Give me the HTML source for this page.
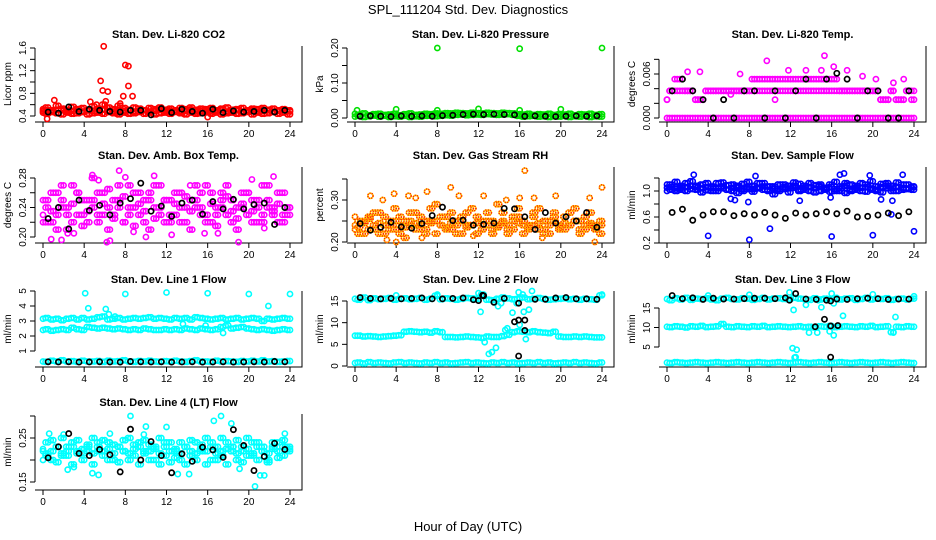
<!DOCTYPE html>
<html><head><meta charset="utf-8"><style>
html,body{margin:0;padding:0;background:#fff;}
svg{display:block;font-family:"Liberation Sans",sans-serif;}
</style></head><body>
<svg id="chart" width="936" height="540" viewBox="0 0 936 540" xmlns="http://www.w3.org/2000/svg">
<text x="468" y="14" text-anchor="middle" font-size="13">SPL_111204  Std. Dev. Diagnostics</text>
<text x="468" y="531" text-anchor="middle" font-size="13">Hour of Day (UTC)</text>
</svg>
<script>
const hours=[0,0.5,1,1.5,2,2.5,3,3.5,4,4.5,5,5.5,6,6.5,7,7.5,8,8.5,9,9.5,10,10.5,11,11.5,12,12.5,13,13.5,14,14.5,15,15.5,16,16.5,17,17.5,18,18.5,19,19.5,20,20.5,21,21.5,22,22.5,23,23.5,24];
const quarterHours=[0.25,0.75,1.25,1.75,2.25,2.75,3.25,3.75,4.25,4.75,5.25,5.75,6.25,6.75,7.25,7.75,8.25,8.75,9.25,9.75,10.25,10.75,11.25,11.75,12.25,12.75,13.25,13.75,14.25,14.75,15.25,15.75,16.25,16.75,17.25,17.75,18.25,18.75,19.25,19.75,20.25,20.75,21.25,21.75,22.25,22.75,23.25,23.75];
const blackHours=[0.5,1.5,2.5,3.5,4.5,5.5,6.5,7.5,8.5,9.5,10.5,11.5,12.5,13.5,14.5,15.5,16.5,17.5,18.5,19.5,20.5,21.5,22.5,23.5];
const xTicks=[0,4,8,12,16,20,24];

// P1 CO2
const co2A=[0.46,0.44,0.47,0.45,0.43,0.46,0.44,0.45,0.47,0.43,0.45,0.46,0.44,0.47,0.45,0.43,0.46,0.44,0.45,0.47,0.44,0.46,0.43,0.45,0.46,0.44,0.47,0.45,0.43,0.46,0.44,0.45,0.47,0.44,0.46,0.43,0.45,0.46,0.44,0.45,0.47,0.43,0.46,0.44,0.45,0.47,0.44,0.46,0.43];
const co2B=[0.52,0.55,0.5,0.58,0.53,0.51,0.56,0.52,0.54,0.5,0.57,0.53,0.6,0.55,0.52,0.58,0.54,0.51,0.55,0.53,0.5,0.54,0.52,0.55,0.51,0.53,0.5,0.54,0.52,0.55,0.51,0.53,0.52,0.54,0.5,0.53,0.55,0.51,0.52,0.54,0.5,0.53,0.52,0.54,0.51,0.53,0.5,0.52,0.5];
const co2C=[0.49,0.5,0.48,0.51,0.5,0.48,0.49,0.52,0.48,0.5,0.49,0.48,0.51,0.49,0.48,0.5,0.49,0.51,0.48,0.49,0.5,0.48,0.49,0.51,0.48,0.49,0.5,0.48,0.49,0.51,0.48,0.49,0.5,0.48,0.49,0.51,0.48,0.49,0.5,0.48,0.49,0.51,0.48,0.49,0.5,0.48,0.49,0.5,0.48];
const co2OutX=[0.4,1.1,4.6,5.6,5.8,5.9,6.1,6.3,7.8,8.0,8.3,8.3,8.7,16.0,7.5,5.2];
const co2OutY=[0.35,0.68,0.65,1.02,0.85,1.63,0.66,0.83,0.75,1.3,1.28,0.93,0.75,0.38,0.62,0.6];
const co2Black=[0.47,0.45,0.56,0.48,0.52,0.5,0.48,0.47,0.5,0.5,0.42,0.53,0.46,0.52,0.48,0.45,0.52,0.46,0.49,0.47,0.48,0.5,0.47,0.5];

// P2 Pressure
const prA=[0.004,0.006,0.003,0.005,0.007,0.004,0.006,0.003,0.005,0.004,0.006,0.003,0.005,0.004,0.006,0.007,0.005,0.006,0.008,0.007,0.009,0.01,0.008,0.009,0.01,0.009,0.011,0.01,0.009,0.01,0.011,0.009,0.006,0.004,0.005,0.006,0.004,0.005,0.003,0.005,0.004,0.006,0.003,0.005,0.004,0.006,0.003,0.005,0.004];
const prB=[0.012,0.009,0.013,0.008,0.011,0.012,0.009,0.01,0.012,0.008,0.011,0.013,0.009,0.01,0.012,0.011,0.013,0.012,0.014,0.013,0.015,0.014,0.013,0.015,0.014,0.013,0.015,0.014,0.013,0.015,0.014,0.013,0.011,0.01,0.012,0.009,0.011,0.01,0.012,0.009,0.011,0.01,0.012,0.008,0.011,0.01,0.012,0.009,0.011];
const prOutX=[0.2,4,8,12,16,20,24,8,16];
const prOutY=[0.022,0.025,0.2,0.026,0.198,0.025,0.2,0.022,0.022];
const prBlack=[0.005,0.006,0.005,0.004,0.006,0.005,0.006,0.005,0.007,0.008,0.01,0.011,0.01,0.011,0.01,0.009,0.005,0.006,0.005,0.004,0.005,0.006,0.005,0.006];

// P3 Li-820 Temp
const tpZero=[0,0,0,0,0,0,0,0,0,0,0,0,0,0,0,0,0,0,0,0,0,0,0,0,0,0,0,0,0,0,0,0,0,0,0,0,0,0,0,0,0,0,0,0,0,0,0,0,0];
const tpMid=[0.0025,0.0037,0.0037,0.0037,0.0037,0.0037,0.0025,0.0025,0.0037,0.0037,0.0037,0.0037,0.0037,0.0037,0.0037,0.0037,0.0037,0.0037,0.0037,0.0037,0.0037,0.0037,0.0037,0.0037,0.0037,0.0037,0.0037,0.0037,0.0037,0.0037,0.0037,0.0037,0.0037,0.0037,0.0037,0.0037,0.0037,0.0037,0.0037,0.0037,0.0037,0.0037,0.0025,0.0025,0.0037,0.0025,0.0025,0.0037,0.0037];
const tpTop=[0.0025,0.0037,0.0053,0.0053,0.0037,0.0037,0.0025,0.0025,0.0037,0.0037,0.0037,0.0037,0.0037,0.0037,0.0037,0.0037,0.0037,0.0053,0.0053,0.0053,0.0053,0.0053,0.0053,0.0053,0.0053,0.0053,0.0053,0.0053,0.0053,0.0053,0.0053,0.0053,0.0053,0.0053,0.0037,0.0037,0.0037,0.0037,0.0037,0.0037,0.0037,0.0037,0.0025,0.0025,0.0037,0.0025,0.0025,0.0037,0.0025];
const tpOutX=[9.7,15.3,16.2,11.8,3.2,20.3,7.1,15,13.5,2,6.2,10.5,17.5,19,22,23];
const tpOutY=[0.0078,0.0085,0.007,0.0065,0.0063,0.0053,0.006,0.0065,0.0065,0.0063,0.0032,0.0025,0.0065,0.0057,0.0048,0.0053];
const tpBlack=[0.0037,0.0053,0.0037,0.0025,0,0.0025,0,0.0037,0.0037,0,0.0037,0,0.0037,0.0053,0,0.0053,0.0061,0.0053,0,0.0037,0.0037,0,0,0.0037];

// P4 Amb Box Temp
const abA=[0.23,0.25,0.22,0.26,0.24,0.21,0.27,0.23,0.25,0.22,0.24,0.26,0.23,0.21,0.25,0.27,0.22,0.24,0.26,0.23,0.25,0.21,0.24,0.27,0.22,0.25,0.23,0.26,0.24,0.21,0.25,0.23,0.27,0.22,0.24,0.26,0.23,0.25,0.21,0.24,0.26,0.22,0.25,0.23,0.27,0.24,0.22,0.26,0.23];
const abB=[0.25,0.22,0.26,0.23,0.27,0.24,0.22,0.26,0.23,0.25,0.28,0.22,0.26,0.24,0.23,0.25,0.22,0.27,0.24,0.26,0.22,0.25,0.27,0.23,0.25,0.22,0.26,0.24,0.22,0.25,0.27,0.24,0.22,0.26,0.23,0.25,0.27,0.22,0.24,0.26,0.23,0.25,0.22,0.27,0.24,0.23,0.26,0.22,0.24];
const abC=[0.22,0.24,0.235,0.21,0.25,0.23,0.245,0.26,0.215,0.235,0.25,0.23,0.245,0.265,0.225,0.24,0.255,0.23,0.215,0.245,0.235,0.26,0.225,0.24,0.25,0.23,0.245,0.22,0.255,0.235,0.24,0.26,0.23,0.245,0.215,0.24,0.255,0.235,0.225,0.245,0.26,0.235,0.24,0.22,0.25,0.235,0.245,0.23,0.24];
const abOutX=[0.8,1.8,4.8,5.4,6.2,6.5,7.4,8.0,3.0,10.8,12.5,15.7,19.0,20.3,22.4,17.0,2.4,8.8,10.0,14.3,21.5];
const abOutY=[0.197,0.196,0.284,0.277,0.193,0.195,0.29,0.281,0.205,0.283,0.203,0.205,0.193,0.278,0.282,0.205,0.205,0.207,0.2,0.27,0.212];
const abBlack=[0.225,0.24,0.211,0.25,0.236,0.243,0.23,0.246,0.252,0.273,0.235,0.242,0.228,0.246,0.25,0.231,0.248,0.238,0.251,0.238,0.244,0.246,0.217,0.24];

// P5 Gas Stream RH
const rhA=[0.23,0.25,0.22,0.26,0.24,0.27,0.22,0.25,0.23,0.26,0.21,0.24,0.27,0.23,0.25,0.28,0.22,0.24,0.26,0.23,0.25,0.22,0.27,0.24,0.26,0.23,0.25,0.22,0.24,0.27,0.23,0.25,0.26,0.22,0.24,0.27,0.23,0.25,0.22,0.26,0.24,0.23,0.27,0.25,0.22,0.26,0.24,0.23,0.22];
const rhB=[0.26,0.22,0.25,0.23,0.27,0.22,0.26,0.24,0.28,0.22,0.25,0.27,0.23,0.26,0.22,0.25,0.29,0.26,0.23,0.27,0.22,0.26,0.24,0.28,0.22,0.25,0.27,0.23,0.29,0.25,0.22,0.26,0.28,0.24,0.23,0.26,0.28,0.22,0.25,0.27,0.23,0.26,0.24,0.28,0.25,0.23,0.27,0.24,0.25];
const rhC=[0.24,0.235,0.245,0.255,0.23,0.245,0.24,0.23,0.25,0.24,0.235,0.25,0.245,0.24,0.23,0.245,0.25,0.24,0.235,0.245,0.24,0.25,0.235,0.24,0.245,0.23,0.24,0.25,0.235,0.245,0.24,0.23,0.245,0.25,0.235,0.24,0.245,0.23,0.24,0.25,0.235,0.245,0.24,0.25,0.23,0.24,0.245,0.235,0.24];
const rhOutX=[1.5,2.7,3.8,4.0,5.2,5.9,7.0,10.1,9.3,14.7,16.0,16.5,17.4,19.5,22.8,24.0,12.5,23.3,6.5,3.1,11.5,18.2];
const rhOutY=[0.31,0.30,0.315,0.2,0.31,0.305,0.32,0.31,0.33,0.30,0.305,0.37,0.305,0.31,0.305,0.33,0.31,0.2,0.21,0.205,0.215,0.21];
const rhBlack=[0.244,0.228,0.235,0.247,0.236,0.233,0.244,0.263,0.283,0.251,0.252,0.24,0.242,0.245,0.28,0.279,0.26,0.23,0.27,0.245,0.26,0.25,0.27,0.235];

// P6 Sample Flow
const sfA=[1.05,1.1,1.0,1.08,1.12,1.03,1.06,1.1,1.01,1.07,1.12,1.04,1.09,1.0,1.06,1.11,1.03,1.08,1.05,1.12,1.0,1.07,1.1,1.03,1.08,1.05,1.11,1.02,1.06,1.09,1.0,1.05,1.1,1.03,1.07,1.12,1.0,1.08,1.05,1.1,1.02,1.07,1.11,1.04,1.08,1.06,1.1,1.03,1.07];
const sfB=[1.1,1.02,1.14,1.05,1.0,1.15,1.08,0.98,1.12,1.04,1.0,1.13,1.02,1.1,0.97,1.03,1.14,0.99,1.12,1.02,1.07,0.95,1.03,1.1,0.98,1.13,1.0,1.08,1.12,0.98,1.1,1.03,0.99,1.14,1.0,0.97,1.1,1.02,1.12,0.99,1.15,1.0,0.98,1.12,1.0,1.13,1.02,1.1,1.06];
const sfC=[1.0,1.06,1.04,1.02,1.06,1.08,1.02,1.04,1.06,1.0,1.04,1.07,1.02,1.05,1.08,1.0,1.06,1.03,1.04,1.07,1.02,1.04,1.0,1.06,1.04,1.08,1.02,1.05,1.0,1.04,1.07,1.02,1.06,1.0,1.04,1.08,1.02,1.05,1.0,1.06,1.04,1.02,1.06,1.08,1.04,1.0,1.05,1.04,1.02];
const sfOutX=[4,8,10,16,20,24,2.6,8.6,17.2,16.8,22.9,19.7,12.9,7.9,6.2,20.8,21.9,15.9,21.8,6.6];
const sfOutY=[0.31,0.25,0.42,0.3,0.32,0.38,1.25,1.23,1.27,1.25,1.25,1.24,0.85,0.83,0.88,0.87,0.85,0.9,0.64,0.86];
const sfBlack=[0.67,0.72,0.55,0.63,0.68,0.68,0.62,0.65,0.63,0.67,0.63,0.58,0.66,0.63,0.65,0.68,0.65,0.69,0.6,0.61,0.63,0.66,0.62,0.68];

// P7 Line 1 Flow
const l1A=[3.15,3.2,3.1,3.15,3.05,3.15,3.2,3.1,3.2,3.1,3.15,3.25,3.3,3.1,3.15,3.2,3.1,3.15,3.2,3.15,3.2,3.25,3.15,3.2,3.15,3.1,3.2,3.15,3.2,3.1,3.25,3.2,3.15,3.1,3.15,3.2,3.1,3.15,3.2,3.1,3.15,3.2,3.15,3.0,3.15,3.1,3.15,3.2,3.15];
const l1B=[2.4,2.45,2.35,2.4,2.45,2.4,2.55,2.45,2.4,2.6,2.55,2.5,2.55,2.5,2.45,2.5,2.45,2.4,2.45,2.4,2.5,2.45,2.4,2.4,2.45,2.4,2.45,2.4,2.5,2.45,2.4,2.5,2.45,2.4,2.45,2.6,2.7,2.5,2.55,2.6,2.5,2.45,2.4,2.45,2.4,2.35,2.4,2.45,2.4];
const l1C=[0.3,0.28,0.35,0.3,0.38,0.3,0.32,0.28,0.35,0.3,0.3,0.33,0.28,0.35,0.3,0.32,0.38,0.3,0.28,0.33,0.3,0.35,0.3,0.28,0.32,0.3,0.35,0.3,0.28,0.32,0.38,0.3,0.3,0.28,0.35,0.3,0.32,0.3,0.28,0.33,0.3,0.35,0.3,0.38,0.3,0.32,0.28,0.3,0.33];
const l1OutX=[4.1,4.4,6.1,6.4,8,12,16,20,21.9,24,17.5,15.8,7,13.6];
const l1OutY=[4.85,3.85,3.8,3.45,4.8,4.9,4.85,4.8,4.0,4.8,2.2,2.7,3.3,2.8];
const l1Black=[0.28,0.27,0.28,0.26,0.27,0.28,0.27,0.26,0.3,0.28,0.27,0.28,0.26,0.27,0.28,0.26,0.27,0.28,0.26,0.27,0.28,0.27,0.3,0.28];

// P8 Line 2 Flow
const l2A=[15.5,15.3,15.8,15.2,15.6,15.4,15.5,15.7,15.3,15.5,15.6,15.4,15.5,15.7,15.3,15.5,16.2,15.4,15.6,15.5,15.3,15.5,15.7,15.6,15.5,16.5,15.3,15.2,15.5,15.8,15.6,15.4,15.5,15.8,15.4,15.5,15.7,15.5,15.3,15.4,15.5,15.6,15.4,15.5,15.3,15.5,15.4,15.3,16.3];
const l2B=[7,7,6.8,6.9,6.8,6.7,6.8,6.9,7,7.1,7.9,8,7.9,7.8,7.9,7.7,8,7.8,6.7,6.7,6.6,6.7,6.8,6.7,6.6,6.5,6.8,6.7,6.7,6.9,7.2,7.8,8,7.9,7.8,8,7.8,7.7,7.6,7.9,6.8,6.7,6.7,6.8,6.7,6.8,6.7,6.6,6.6];
const l2C=[0.7,0.8,0.6,0.9,0.7,0.8,0.7,0.6,0.8,0.9,0.7,0.8,0.7,0.6,0.8,0.7,0.9,0.7,0.8,0.6,0.7,0.8,0.9,0.7,0.8,0.7,0.6,0.8,0.7,0.9,0.7,0.8,0.6,0.7,0.8,0.7,0.9,0.7,0.8,0.6,0.7,0.8,0.7,0.9,0.7,0.8,0.7,0.6,0.8];
const l2OutX=[12.2,12.6,13,13.3,13.7,13.9,14.2,15.3,15.7,16,16.4,16.9,16.6,14.6,14.8,15.9,17.2,12,8,24,4,16.3];
const l2OutY=[12.5,5.5,2.8,3.2,4.2,13.8,14.5,12.3,14.5,9.5,12.5,13,6.2,8.3,8.7,17,17.3,16.8,16.5,16.5,16.3,16.5];
const l2Black=[15.8,15.6,15.5,15.6,15.5,15.6,15.7,15.5,15.5,15.6,15.7,15.3,16.2,14.7,15.6,10.2,8.2,15.4,15.4,15.7,15.8,15.5,15.5,15.4];
const l2BlackExX=[15.9,15.9,16.5,15.9,12,12.4];
const l2BlackExY=[2.3,10.6,10.6,14.5,15.1,16.3];

// P9 Line 3 Flow
const l3A=[17.3,17.0,17.5,17.2,17.6,17.1,17.4,17.3,17.5,17.2,17.0,17.4,17.6,17.3,17.2,17.5,17.4,17.1,17.3,17.6,17.2,17.4,17.5,17.3,17.2,17.6,17.4,17.3,17.1,17.5,17.2,17.4,17.3,17.6,17.2,17.4,17.5,17.1,17.3,17.6,17.2,17.4,17.3,17.5,17.1,17.3,17.4,17.2,17.4];
const l3B=[10.2,10.1,10.3,10.2,10.0,10.3,10.2,10.4,10.1,10.2,10.3,10.9,10.2,10.1,10.3,10.2,10.1,10.3,10.2,10.4,10.1,10.2,10.3,10.2,10.1,10.2,10.3,10.1,10.2,10.0,10.3,10.2,10.4,10.1,10.2,10.3,10.2,10.1,10.3,10.2,10.4,10.1,10.2,10.3,8.8,10.2,10.1,10.3,10.2];
const l3C=[1.0,0.9,1.1,1.0,0.9,1.0,1.1,1.0,0.9,1.0,1.1,1.0,0.9,1.0,1.1,1.0,0.9,1.0,1.1,1.0,0.9,1.0,1.1,1.0,0.9,1.0,1.1,1.0,0.9,1.0,1.1,1.0,0.9,1.0,1.1,1.0,0.9,1.0,1.1,1.0,0.9,1.0,1.1,1.0,0.9,1.0,1.1,1.0,0.9];
const l3OutX=[12.2,12.6,12.4,12.5,12.3,13.8,14.6,15,15.8,16.2,16.2,17.1,22.2,22,11.9,16,20,24,4,8,13.5,14.7];
const l3OutY=[4.7,4.3,2.3,2.4,14.5,8.7,8.7,15.2,9,8,16.2,13,12.7,8.7,19,18.7,18.5,18,18.2,18.4,15.8,17];
const l3Black=[18.2,17.4,17.6,17.2,17.5,17.3,17.3,17.4,17.5,17.5,17.4,17.6,18.7,17.3,17.2,17,17.3,17.2,17.4,17.5,17.4,17.2,17.3,17.3];
const l3BlackExX=[14.4,15.3,15.9,15.9,16.6,15.9,11.9];
const l3BlackExY=[10.2,12.1,10.4,2.4,10.5,16.8,17];

// P10 Line 4 Flow
const l4A=[0.22,0.24,0.2,0.23,0.25,0.21,0.24,0.22,0.2,0.23,0.25,0.22,0.21,0.24,0.2,0.23,0.22,0.25,0.21,0.24,0.22,0.2,0.23,0.25,0.21,0.24,0.22,0.2,0.23,0.21,0.24,0.22,0.25,0.2,0.23,0.21,0.24,0.22,0.2,0.23,0.25,0.21,0.24,0.22,0.2,0.23,0.24,0.21,0.22];
const l4B=[0.2,0.21,0.245,0.195,0.21,0.23,0.19,0.245,0.215,0.235,0.19,0.24,0.245,0.2,0.235,0.195,0.245,0.2,0.235,0.19,0.245,0.235,0.2,0.19,0.24,0.195,0.205,0.24,0.19,0.245,0.2,0.235,0.19,0.24,0.2,0.25,0.19,0.23,0.245,0.195,0.21,0.24,0.2,0.23,0.195,0.24,0.205,0.245,0.23];
const l4C=[0.225,0.215,0.22,0.23,0.215,0.22,0.23,0.215,0.225,0.22,0.215,0.23,0.22,0.225,0.215,0.23,0.22,0.215,0.225,0.23,0.215,0.22,0.225,0.215,0.23,0.22,0.225,0.215,0.23,0.22,0.215,0.225,0.22,0.23,0.215,0.22,0.225,0.23,0.215,0.22,0.225,0.215,0.23,0.22,0.215,0.225,0.22,0.23,0.225];
const l4OutX=[0.6,2.0,2.4,4.8,5.4,8.0,8.5,9.8,10.0,16.6,17.3,18.3,20.6,21.5,21.1,23.5,12.0,13.1,3.0,19.1,6.5,14.2];
const l4OutY=[0.26,0.258,0.178,0.17,0.166,0.245,0.3,0.258,0.276,0.289,0.3,0.283,0.14,0.165,0.165,0.26,0.275,0.168,0.184,0.18,0.26,0.168];
const l4Black=[0.205,0.23,0.26,0.215,0.21,0.224,0.212,0.173,0.27,0.2,0.242,0.21,0.171,0.214,0.197,0.229,0.223,0.206,0.269,0.233,0.176,0.208,0.238,0.224];

const NS='http://www.w3.org/2000/svg';
const svg=document.getElementById('chart');
const colLeft=[35,347,659];
const rowBottom=[122,243,367,490];

function mk(tag,attrs,parent){const e=document.createElementNS(NS,tag);for(const k in attrs)e.setAttribute(k,attrs[k]);parent.appendChild(e);return e;}

const panels=[
 {id:'co2',title:'Stan. Dev. Li-820 CO2',ylab:'Licor ppm',c:0,r:0,dom:[0.4,1.6],rng:[116,48],ticks:[0.4,0.6,0.8,1.0,1.2,1.4,1.6],labels:['0.4','','0.8','','1.2','','1.6'],color:'#ff0000',
  rows:[co2A,co2B,co2C],ox:co2OutX,oy:co2OutY,black:co2Black},
 {id:'pressure',title:'Stan. Dev. Li-820 Pressure',ylab:'kPa',c:1,r:0,dom:[0,0.2],rng:[118,48],ticks:[0,0.05,0.1,0.15,0.2],labels:['0.00','','0.10','','0.20'],color:'#00e000',
  rows:[prA,prB],ox:prOutX,oy:prOutY,black:prBlack},
 {id:'li820-temp',title:'Stan. Dev. Li-820 Temp.',ylab:'degrees C',c:2,r:0,dom:[0,0.006],rng:[118,74],ticks:[0,0.002,0.004,0.006,0.008],labels:['0.000','','','0.006',''],color:'#ff00ff',
  rows:[tpZero,tpMid,tpTop],ox:tpOutX,oy:tpOutY,black:tpBlack},
 {id:'amb-box-temp',title:'Stan. Dev. Amb. Box Temp.',ylab:'degrees C',c:0,r:1,dom:[0.2,0.28],rng:[237,178],ticks:[0.2,0.22,0.24,0.26,0.28],labels:['0.20','','0.24','','0.28'],color:'#ff00ff',
  rows:[abA,abB,abC],ox:abOutX,oy:abOutY,black:abBlack},
 {id:'gas-stream-rh',title:'Stan. Dev. Gas Stream RH',ylab:'percent',c:1,r:1,dom:[0.2,0.3],rng:[242,200],ticks:[0.2,0.25,0.3,0.35],labels:['0.20','','0.30',''],color:'#ffd000',dots:'#ff2000',
  rows:[rhA,rhB,rhC],ox:rhOutX,oy:rhOutY,black:rhBlack},
 {id:'sample-flow',title:'Stan. Dev. Sample Flow',ylab:'ml/min',c:2,r:1,dom:[0.2,1.0],rng:[243,191],ticks:[0.2,0.4,0.6,0.8,1.0,1.2],labels:['0.2','','0.6','','1.0',''],color:'#0000ff',
  rows:[sfA,sfB,sfC],ox:sfOutX,oy:sfOutY,black:sfBlack},
 {id:'line1-flow',title:'Stan. Dev. Line 1 Flow',ylab:'ml/min',c:0,r:2,dom:[1,5],rng:[351,291],ticks:[1,2,3,4,5],labels:['1','2','3','4','5'],color:'#00ffff',
  rows:[l1A,l1B,l1C],ox:l1OutX,oy:l1OutY,black:l1Black},
 {id:'line2-flow',title:'Stan. Dev. Line 2 Flow',ylab:'ml/min',c:1,r:2,dom:[0,15],rng:[366,301],ticks:[0,5,10,15],labels:['0','5','10','15'],color:'#00ffff',
  rows:[l2A,l2B,l2C],ox:l2OutX,oy:l2OutY,black:l2Black,bx:l2BlackExX,by:l2BlackExY},
 {id:'line3-flow',title:'Stan. Dev. Line 3 Flow',ylab:'ml/min',c:2,r:2,dom:[5,15],rng:[347,308],ticks:[5,10,15],labels:['5','10','15'],color:'#00ffff',
  rows:[l3A,l3B,l3C],ox:l3OutX,oy:l3OutY,black:l3Black,bx:l3BlackExX,by:l3BlackExY},
 {id:'line4-flow',title:'Stan. Dev. Line 4 (LT) Flow',ylab:'ml/min',c:0,r:3,dom:[0.15,0.25],rng:[482,438],ticks:[0.15,0.2,0.25,0.3],labels:['0.15','','0.25',''],color:'#00ffff',
  rows:[l4A,l4B,l4C],ox:l4OutX,oy:l4OutY,black:l4Black}
];

panels.forEach(p=>{
  const L=colLeft[p.c], R=L+267, B=rowBottom[p.r], T=B-76;
  const xs=h=>L+8+h*(247/24);
  const ys=v=>p.rng[0]+(v-p.dom[0])*(p.rng[1]-p.rng[0])/(p.dom[1]-p.dom[0]);
  const g=mk('g',{},svg);
  
  
  const t=mk('text',{x:(L+R)/2,y:T-8,'text-anchor':'middle','font-size':'11','font-weight':'bold'},g);
  t.textContent=p.title;
  
  
  const box=mk('path',{d:`M${L},${B}H${R}V${T}`,fill:'none',stroke:'#000','stroke-width':'1'},g);
  
  
  const yg=mk('g',{},g);
  
  
  const ty=p.ticks.map(ys);
  mk('line',{x1:L,x2:L,y1:Math.min(...ty),y2:Math.max(...ty),stroke:'#000'},yg);
  p.ticks.forEach((v,i)=>{
    const y=ys(v);
    mk('line',{x1:L-5,x2:L,y1:y,y2:y,stroke:'#000'},yg);
    if(p.labels[i]){const tl=mk('text',{x:0,y:0,transform:`translate(${L-9},${y}) rotate(-90)`,'text-anchor':'middle','font-size':'10'},yg);tl.textContent=p.labels[i];
      
      }
  });
  const yl=mk('text',{x:0,y:0,transform:`translate(${L-24},${(T+B)/2}) rotate(-90)`,'text-anchor':'middle','font-size':'10'},g);
  yl.textContent=p.ylab;
  
  
  const xg=mk('g',{},g);
  
  
  xTicks.forEach(h=>{
    const x=xs(h);
    mk('line',{x1:x,x2:x,y1:B,y2:B+5,stroke:'#000'},xg);
    const tl=mk('text',{x:x,y:B+15,'text-anchor':'middle','font-size':'10'},xg);
    tl.textContent=h;
    
    
  });
  const sg=mk('g',{fill:'none','stroke-width':'1.6'},g);
  
  
  const pt=(h,v,col,parent)=>{
    const c=mk('circle',{cx:xs(h),cy:ys(v),r:2.6,stroke:col},parent);
    
    
    if(p.dots&&col===p.color){const d=mk('circle',{cx:xs(h),cy:ys(v),r:2.6,stroke:p.dots,'stroke-dasharray':'1 1.2'},parent);
      
      }
  };
  const n=p.rows.length;
  p.rows.forEach((row,k)=>{
    row.forEach((v,i)=>pt(hours[i],v,p.color,sg));
    const nxt=p.rows[(k+1)%n];
    quarterHours.forEach((h,i)=>pt(h,nxt[i+1],p.color,sg));
  });
  p.ox.forEach((h,i)=>pt(h,p.oy[i],p.color,sg));
  const bg=mk('g',{fill:'none','stroke-width':'1.7'},g);
  
  
  p.black.forEach((v,i)=>pt(blackHours[i],v,'#000',bg));
  if(p.bx)p.bx.forEach((h,i)=>pt(h,p.by[i],'#000',bg));
});
</script>
</body></html>
